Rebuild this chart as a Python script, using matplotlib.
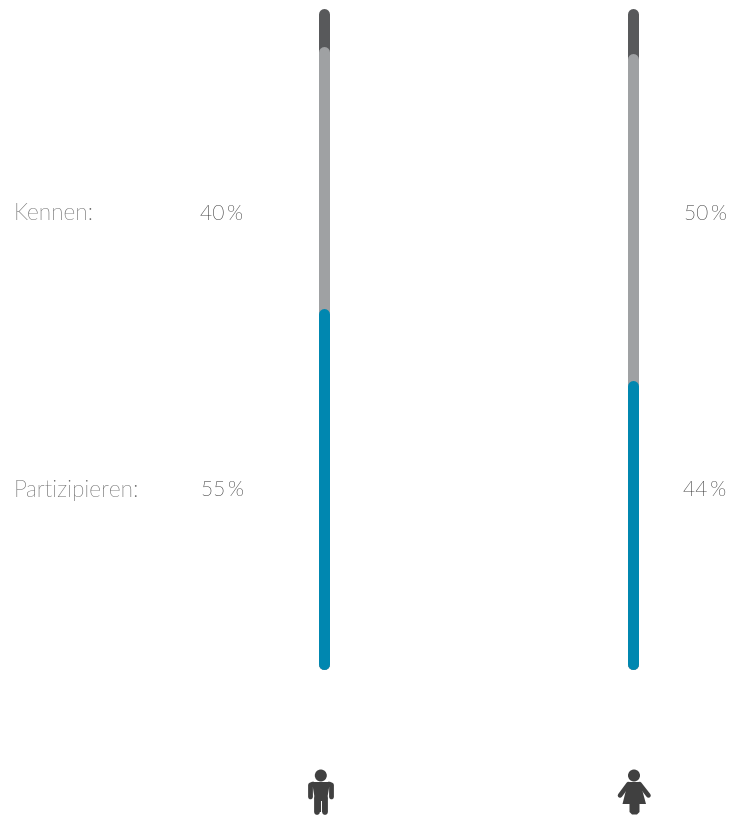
import matplotlib
matplotlib.use("Agg")
import matplotlib.pyplot as plt
from matplotlib import font_manager as fm
from matplotlib.patches import Circle, Polygon

groups = ["Männer", "Frauen"]
partizipieren = [55, 44]
kennen = [40, 50]
row_labels = ["Kennen:", "Partizipieren:"]

W, H = 731, 816
BLUE = "#0087b0"
GREY = "#9fa1a3"
DARK = "#58595b"
ICON = "#404040"

# the light cut of Lato, by file, since weight="light" lands on something thinner
light = [f.fname for f in fm.fontManager.ttflist
         if f.name == "Lato" and f.fname.endswith("Light.ttf") and "Hair" not in f.fname]
if light:
    label_font = fm.FontProperties(fname=light[0], size=16.4)
    pct_font = fm.FontProperties(fname=light[0], size=15)
else:
    label_font = fm.FontProperties(family="Lato", size=16.4)
    pct_font = fm.FontProperties(family="Lato", size=15)

fig = plt.figure(figsize=(W / 100, H / 100), dpi=100)

# value axis: 0 sits at y=669px, 6.55px per percent
bars = fig.add_axes([0, 0, 1, 1])
px_per_pct = 6.55
bars.set_ylim(-(H - 669) / px_per_pct, 669 / px_per_pct)
bars.set_xlim(-323.7 / 309.5, (W - 323.7) / 309.5)
bars.axis("off")

lw = 11 * 72 / 100
cap = 5.5 / px_per_pct


def bar(x, top, color, z):
    # the round cap should end at top, so stop the line a bit short
    bars.plot([x, x], [cap, top - cap], color=color, lw=lw,
              solid_capstyle="round", zorder=z)


for i in range(len(groups)):
    bar(i, 100 + cap, DARK, 1)
    bar(i, partizipieren[i] + kennen[i], GREY, 2)
    bar(i, partizipieren[i], BLUE, 3)

# everything else is placed in pixels
ax = fig.add_axes([0, 0, 1, 1], facecolor="none")
ax.set_xlim(0, W)
ax.set_ylim(H, 0)
ax.axis("off")

ax.text(14, 213.5, row_labels[0], fontproperties=label_font, color="#666666", va="center")
ax.text(14, 490.5, row_labels[1], fontproperties=label_font, color="#666666", va="center")

ax.text(243, 213.5, f"{kennen[0]}\u2009%", fontproperties=pct_font, color="#2e2e2e", va="center", ha="right")
ax.text(244, 490.5, f"{partizipieren[0]}\u2009%", fontproperties=pct_font, color="#2e2e2e", va="center", ha="right")
ax.text(727, 213.5, f"{kennen[1]}\u2009%", fontproperties=pct_font, color="#2e2e2e", va="center", ha="right")
ax.text(726, 490.5, f"{partizipieren[1]}\u2009%", fontproperties=pct_font, color="#2e2e2e", va="center", ha="right")


def stroke(xs, ys, w):
    ax.plot(xs, ys, color=ICON, lw=w * 0.72, solid_capstyle="round", solid_joinstyle="round")


# man
ax.add_patch(Circle((320.8, 775.5), 6, color=ICON, lw=0))
ax.add_patch(Polygon([(312, 782), (330, 782), (327, 800), (327, 812), (315, 812), (315, 800)], color=ICON, lw=0))
stroke([310.5, 310.5, 313], [797, 785, 784], 4.8)
stroke([331.5, 331.5, 329], [797, 785, 784], 4.8)
stroke([317, 317], [798, 812], 5.8)
stroke([325, 325], [798, 812], 5.8)
ax.plot([321, 321], [801, 816], color="white", lw=0.7)

# woman
ax.add_patch(Circle((634, 775.5), 6, color=ICON, lw=0))
ax.add_patch(Polygon([(628, 782), (640, 782), (646, 804), (622.5, 804)], color=ICON, lw=0))
stroke([628.5, 620], [784, 795.5], 4.6)
stroke([639.5, 648.5], [784, 795.5], 4.6)
ax.add_patch(Polygon([(629.5, 803), (639.5, 803), (639.5, 812), (637, 814.5), (632, 814.5), (629.5, 812)], color=ICON, lw=0))

fig.savefig("out.png", dpi=100)
